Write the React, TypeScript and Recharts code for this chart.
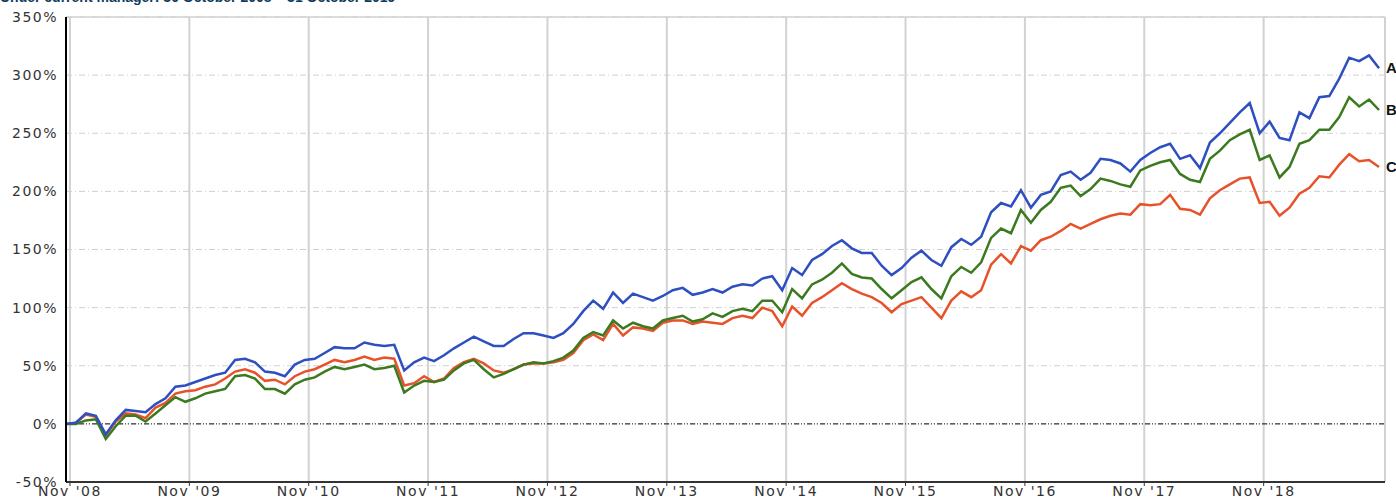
import {
  LineChart,
  Line,
  XAxis,
  YAxis,
  CartesianGrid,
  ReferenceLine,
  ReferenceDot,
} from "recharts";

// month-end points from 30 Oct 2008 to 31 Oct 2019 (index = months since start)
const months = Array.from({ length: 133 }, (_, i) => i);

const tickLabels = [
  "Nov '08", "Nov '09", "Nov '10", "Nov '11", "Nov '12", "Nov '13",
  "Nov '14", "Nov '15", "Nov '16", "Nov '17", "Nov '18",
];
const yTicks = [-50, 0, 50, 100, 150, 200, 250, 300, 350];

const seriesA = [
  0, 1, 9, 7, -9, 3, 12, 11, 10, 17,
  22, 32, 33, 36, 39, 42, 44, 55, 56, 53,
  45, 44, 41, 51, 55, 56, 61, 66, 65, 65,
  70, 68, 67, 68, 46, 53, 57, 54, 59, 65,
  70, 75, 71, 67, 67, 73, 78, 78, 76, 74,
  78, 86, 97, 106, 99, 113, 104, 112, 109, 106,
  110, 115, 117, 111, 113, 116, 113, 118, 120, 119,
  125, 127, 115, 134, 128, 141, 146, 153, 158, 151,
  147, 147, 136, 128, 134, 143, 149, 141, 136, 152,
  159, 154, 161, 182, 190, 187, 201, 186, 197, 200,
  214, 217, 210, 216, 228, 227, 224, 217, 227, 233,
  238, 241, 228, 231, 220, 242, 250, 259, 268, 276,
  250, 260, 246, 244, 268, 263, 281, 282, 297, 315,
  312, 317, 306,
];

const seriesB = [
  0, 0, 3, 4, -13, -2, 7, 7, 2, 9,
  16, 23, 19, 22, 26, 28, 30, 41, 42, 39,
  30, 30, 26, 34, 38, 40, 45, 49, 47, 49,
  51, 47, 48, 50, 27, 33, 37, 36, 38, 46,
  52, 55, 47, 40, 43, 47, 51, 53, 52, 54,
  57, 63, 74, 79, 76, 89, 82, 87, 84, 82,
  89, 91, 93, 88, 90, 95, 92, 97, 99, 97,
  106, 106, 96, 116, 108, 120, 124, 130, 138, 129,
  126, 125, 116, 108, 115, 122, 126, 116, 108, 127,
  135, 130, 139, 160, 168, 164, 184, 173, 184, 191,
  203, 205, 196, 202, 211, 209, 206, 204, 218, 222,
  225, 227, 215, 210, 208, 228, 235, 244, 249, 253,
  227, 231, 212, 221, 241, 244, 253, 253, 264, 281,
  273, 279, 270,
];

const seriesC = [
  0, 1, 8, 6, -10, 2, 9, 8, 5, 14,
  18, 26, 28, 29, 32, 34, 39, 45, 47, 44,
  37, 38, 34, 41, 45, 47, 51, 55, 53, 55,
  58, 55, 57, 56, 33, 35, 41, 36, 39, 48,
  53, 56, 52, 46, 44, 47, 51, 52, 52, 53,
  55, 61, 72, 77, 72, 86, 76, 83, 82, 80,
  87, 89, 89, 86, 88, 87, 86, 91, 93, 91,
  100, 97, 84, 101, 93, 104, 109, 115, 121, 116,
  112, 109, 104, 96, 103, 106, 109, 100, 91, 106,
  114, 109, 115, 137, 146, 138, 153, 149, 158, 161,
  166, 172, 168, 172, 176, 179, 181, 180, 189, 188,
  189, 197, 185, 184, 180, 194, 201, 206, 211, 212,
  190, 191, 179, 186, 198, 203, 213, 212, 223, 232,
  226, 227, 221,
];

const data = months.map((m, i) => ({
  m,
  a: seriesA[i],
  b: seriesB[i],
  c: seriesC[i],
}));

const xTicks = tickLabels.map((_, k) => 0.4 + 12 * k);
const last = months.length - 1;

const tickFont = {
  fontFamily: "DejaVu Sans",
  fontSize: 14,
  fill: "#333",
  letterSpacing: 1.5,
};

const endLabel = (text: string) => ({
  value: text,
  position: "right" as const,
  offset: 7,
  fill: "#111",
  fontFamily: "Liberation Sans",
  fontWeight: 700,
  fontSize: 15,
});

const App = () => {
  return (
    <div
      style={{
        position: "absolute",
        left: 0,
        top: 0,
        width: 1396,
        height: 500,
        overflow: "hidden",
        background: "#fff",
      }}
    >
      <div
        style={{
          position: "absolute",
          left: 0,
          top: -10,
          fontFamily: "Liberation Sans",
          fontWeight: 700,
          fontSize: 14,
          lineHeight: "14px",
          color: "#0d3b5e",
          whiteSpace: "nowrap",
        }}
      >
        Under current manager: 30 October 2008 – 31 October 2019
      </div>

      <LineChart
        width={1396}
        height={500}
        data={data}
        margin={{ top: 17, right: 11, bottom: 0, left: 0 }}
      >
        <CartesianGrid
          horizontal={false}
          stroke="#d2d2d2"
          strokeWidth={2}
        />
        <CartesianGrid
          vertical={false}
          stroke="#cfcfcf"
          strokeDasharray="6 3 1 3"
        />
        <XAxis
          dataKey="m"
          type="number"
          domain={[0, 132.6]}
          ticks={xTicks}
          tickFormatter={(v: number) => tickLabels[Math.round((v - 0.4) / 12)]}
          tick={tickFont}
          tickSize={4}
          tickMargin={0}
          height={18}
          axisLine={{ stroke: "#333", strokeWidth: 2 }}
          tickLine={{ stroke: "#333" }}
          interval={0}
        />
        <YAxis
          type="number"
          domain={[-50, 350]}
          ticks={yTicks}
          tickFormatter={(v: number) => `${v}%`}
          tick={tickFont}
          width={66}
          tickSize={0}
          tickMargin={8}
          tickLine={false}
          axisLine={{ stroke: "#000", strokeWidth: 2 }}
          interval={0}
        />
        <ReferenceLine y={350} stroke="#d2d2d2" strokeWidth={1.5} />
        <ReferenceLine x={132.6} stroke="#d2d2d2" strokeWidth={2} />
        <ReferenceLine
          y={0}
          stroke="#111"
          strokeWidth={1}
          strokeDasharray="5 2 1 2 1 2"
        />
        <Line
          dataKey="c"
          stroke="#e8522b"
          strokeWidth={2.5}
          dot={false}
          isAnimationActive={false}
        />
        <Line
          dataKey="b"
          stroke="#3b7a1f"
          strokeWidth={2.5}
          dot={false}
          isAnimationActive={false}
        />
        <Line
          dataKey="a"
          stroke="#2d4fbf"
          strokeWidth={2.5}
          dot={false}
          isAnimationActive={false}
        />
        <ReferenceDot x={last} y={seriesA[last]} r={0} stroke="none" fill="none" label={endLabel("A")} />
        <ReferenceDot x={last} y={seriesB[last]} r={0} stroke="none" fill="none" label={endLabel("B")} />
        <ReferenceDot x={last} y={seriesC[last]} r={0} stroke="none" fill="none" label={endLabel("C")} />
      </LineChart>
    </div>
  );
};

export default App;
